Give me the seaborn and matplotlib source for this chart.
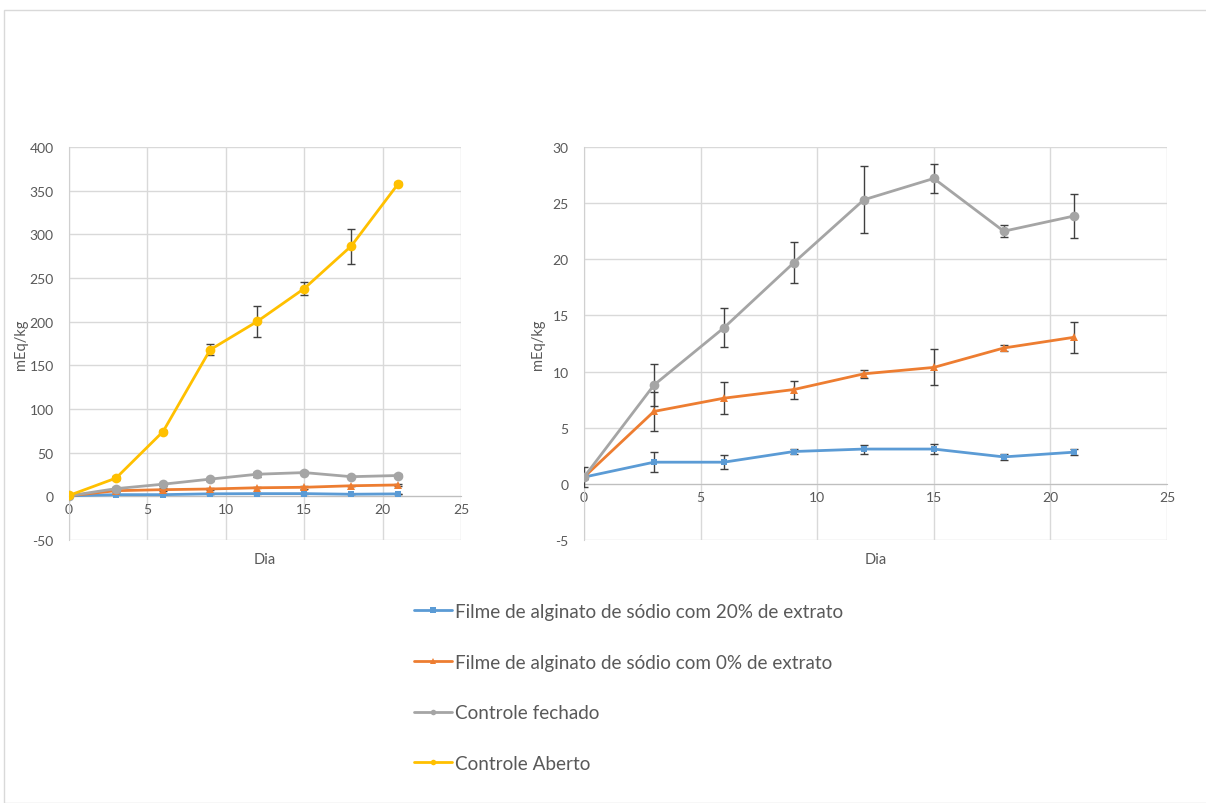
import numpy as np
import pandas as pd
import seaborn as sns
import matplotlib.pyplot as plt
from matplotlib.lines import Line2D
from matplotlib.patches import Rectangle

# data
dias = [0, 3, 6, 9, 12, 15, 18, 21]
nomes = ['Filme de alginato de sódio com 20% de extrato',
         'Filme de alginato de sódio com 0% de extrato',
         'Controle fechado',
         'Controle Aberto']
filme_20 = [0.6, 1.93, 1.93, 2.88, 3.1, 3.1, 2.4, 2.82]
filme_20_err = [0.2, 0.9, 0.65, 0.2, 0.4, 0.45, 0.3, 0.25]
filme_0 = [0.6, 6.45, 7.63, 8.4, 9.8, 10.37, 12.1, 13.05]
filme_0_err = [0.2, 1.7, 1.4, 0.8, 0.35, 1.6, 0.25, 1.4]
fechado = [0.6, 8.8, 13.9, 19.7, 25.3, 27.2, 22.5, 23.85]
fechado_err = [0.9, 1.9, 1.75, 1.8, 3.0, 1.3, 0.55, 1.95]
aberto = [1.0, 20.9, 74.2, 167.8, 200.2, 237.9, 286.6, 358.0]
aberto_err = [1.0, 2.0, 2.0, 6.5, 17.7, 7.5, 20.0, 2.0]

cores = ['#5B9BD5', '#ED7D31', '#A5A5A5', '#FFC000']
marcadores = ['s', '^', 'o', 'o']
tamanhos = [4.5, 6, 7, 7]

valores = [filme_20, filme_0, fechado, aberto]
erros = [filme_20_err, filme_0_err, fechado_err, aberto_err]

df = pd.DataFrame({
    'Dia': dias * 4,
    'valor': filme_20 + filme_0 + fechado + aberto,
    'serie': [n for n in nomes for _ in dias],
})

sns.set_style('white')
plt.rcParams['font.family'] = ['Lato', 'DejaVu Sans']
plt.rcParams['axes.unicode_minus'] = False
texto = '#595959'

fig = plt.figure(figsize=(12.06, 8.04), dpi=100)
fig.patches.append(Rectangle((4 / 1206, 0), 1.1, 1 - 11 / 804, transform=fig.transFigure,
                             fill=False, edgecolor='#D9D9D9', lw=1))

ax1 = fig.add_axes([69 / 1206, 1 - 541 / 804, 392 / 1206, 393 / 804])
ax2 = fig.add_axes([584 / 1206, 1 - 541 / 804, 583 / 1206, 393 / 804])


def desenha(ax, series_idx, ylim, ystep):
    for i in series_idx:
        sub = df[df['serie'] == nomes[i]]
        ax.errorbar(dias, valores[i], yerr=erros[i], fmt='none', ecolor='#404040',
                    elinewidth=1, capsize=3, capthick=1, zorder=2 + i)
        sns.lineplot(data=sub, x='Dia', y='valor', color=cores[i], marker=marcadores[i],
                     markersize=tamanhos[i], markeredgewidth=0, linewidth=2,
                     ax=ax, legend=False, zorder=3 + i)
    ax.set_xlim(0, 25)
    ax.set_ylim(*ylim)
    ax.set_xticks(range(0, 26, 5))
    ax.set_yticks(np.arange(ylim[0], ylim[1] + ystep / 2, ystep))
    ax.grid(True, color='#D9D9D9', lw=1)
    ax.set_axisbelow(True)
    for s in ['top', 'right']:
        ax.spines[s].set_visible(False)
    ax.spines['bottom'].set_position(('data', 0))
    ax.spines['bottom'].set_color('#BFBFBF')
    ax.spines['left'].set_color('#D0D0D0')
    ax.tick_params(length=0, labelsize=10, colors=texto)
    ax.tick_params(axis='y', pad=11)
    ax.tick_params(axis='x', pad=5)
    ax.set_xlabel('Dia', fontsize=10.5, color=texto)
    ax.set_ylabel('mEq/kg', fontsize=10.5, color=texto)
    ax.xaxis.set_label_coords(0.5, -0.03)


desenha(ax1, [0, 1, 2, 3], (-50, 400), 50)
ax1.yaxis.set_label_coords(-0.105, 0.5)
desenha(ax2, [0, 1, 2], (-5, 30), 5)
ax2.yaxis.set_label_coords(-0.067, 0.5)

handles = [Line2D([], [], color=cores[i], marker=marcadores[i], markersize=4,
                  markeredgewidth=0, linewidth=2) for i in range(4)]
fig.legend(handles, nomes, loc='upper left', bbox_to_anchor=(414 / 1206, 1 - 604 / 804),
           frameon=False, fontsize=13.6, labelcolor=texto, handlelength=2.0,
           handletextpad=0.15, labelspacing=1.78, borderpad=0, borderaxespad=0)

fig.savefig('out.png', dpi=100)
